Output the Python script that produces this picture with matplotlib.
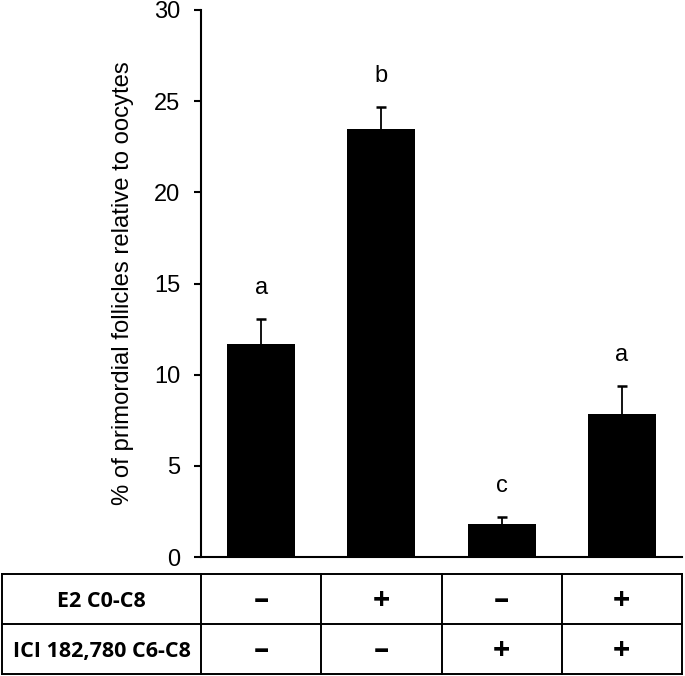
import numpy as np
import matplotlib
matplotlib.use('Agg')
from matplotlib import pyplot as plt

# bar data
means = [11.7, 23.45, 1.8, 7.85]
errors = [1.35, 1.25, 0.4, 1.55]
letters = ['a', 'b', 'c', 'a']

# treatment table
row_labels = ['E2 C0-C8', 'ICI 182,780 C6-C8']
e2_signs = ['\u2013', '+', '\u2013', '+']
ici_signs = ['\u2013', '\u2013', '+', '+']

ylabel = '% of primordial follicles relative to oocytes'

W, H = 685, 676
plt.rcParams['font.family'] = ['Liberation Sans', 'DejaVu Sans']
fig = plt.figure(figsize=(W / 100, H / 100), dpi=100)

# main axes: pixel box 201..682 x 10..557
ax = fig.add_axes([201 / W, 1 - 557 / H, 481 / W, 547 / H])
x = np.arange(len(means))
ax.bar(x, means, width=0.565, color='black', zorder=2)
eb = ax.errorbar(x, means, yerr=[np.zeros(len(errors)), errors], fmt='none',
                 ecolor='black', elinewidth=1.3, capsize=3.5, capthick=1.8, zorder=1)
eb[1][0].set_visible(False)  # no cap at the bar top

for xi, m, e, lab in zip(x, means, errors, letters):
    ax.annotate(lab, (xi, m + e), xytext=(0, 18), textcoords='offset points',
                ha='center', va='baseline', fontsize=17)

ax.set_xlim(-0.5, 3.5)
ax.set_ylim(0, 30)
ax.set_yticks(np.arange(0, 31, 5))
ax.set_xticks([])
ax.spines['top'].set_visible(False)
ax.spines['right'].set_visible(False)
ax.spines['left'].set_linewidth(1.5)
ax.spines['bottom'].set_linewidth(1.5)
ax.tick_params(axis='y', direction='out', length=5, width=1.5, pad=10, labelsize=17)
ax.set_ylabel(ylabel, fontsize=17.2, labelpad=14)

# table below the axes, same x units as the bars
unit_px = 481 / 4
left_edge = -0.5 - (201 - 2) / unit_px
tax = fig.add_axes([2 / W, 1 - 674 / H, 680 / W, 100 / H])
tax.set_xlim(left_edge, 3.5)
tax.set_ylim(0, 2)
tax.axis('off')

col_edges = [left_edge] + list(np.arange(len(means) + 1) - 0.5)
for xe in col_edges:
    tax.plot([xe, xe], [0, 2], color='black', lw=1.4, clip_on=False,
             solid_capstyle='projecting')
for ye in [0, 1, 2]:
    tax.plot([left_edge, 3.5], [ye, ye], color='black', lw=1.4, clip_on=False,
             solid_capstyle='projecting')

label_x = (left_edge - 0.5) / 2
for row, (lab, signs) in enumerate(zip(row_labels, [e2_signs, ici_signs])):
    yc = 1.5 - row
    tax.text(label_x, yc - 0.05, lab, ha='center', va='center', fontsize=15.5,
             fontweight='bold', family=['Open Sans', 'DejaVu Sans'])
    for xi, s in zip(x, signs):
        tax.text(xi, yc - 0.05, s, ha='center', va='center', fontsize=22,
                 fontweight='bold', family=['Open Sans', 'DejaVu Sans'])

fig.savefig('out.png', dpi=100)
